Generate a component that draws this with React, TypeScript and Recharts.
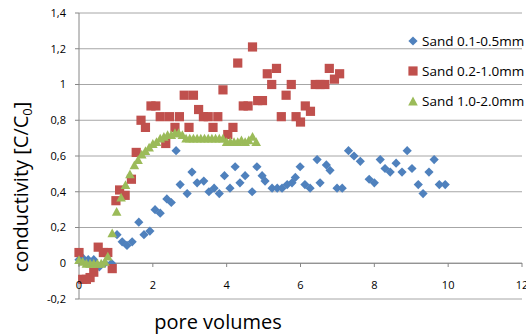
import { ScatterChart, Scatter, XAxis, YAxis, CartesianGrid, ReferenceLine, Label } from "recharts";

const FONT = '"Open Sans", "Liberation Sans", sans-serif';
const AXIS = "#868686";
const GRID = "#a6a6a6";

// [pore volumes, C/C0]
const fineSand: [number, number][] = [
  [0.0, 0.02], [0.1, 0.03], [0.25, 0.02], [0.4, 0.02], [0.55, -0.02], [0.7, 0.0], [0.88, 0.0],
  [1.03, 0.16], [1.17, 0.12], [1.3, 0.1], [1.44, 0.12], [1.62, 0.23], [1.76, 0.16], [1.92, 0.18],
  [2.06, 0.3], [2.2, 0.28], [2.38, 0.36], [2.5, 0.34], [2.63, 0.63], [2.74, 0.44], [2.93, 0.39],
  [3.06, 0.51], [3.2, 0.45], [3.38, 0.46], [3.52, 0.4], [3.66, 0.42], [3.8, 0.39], [3.94, 0.49],
  [4.09, 0.42], [4.23, 0.54], [4.36, 0.45], [4.5, 0.49], [4.69, 0.4], [4.82, 0.54], [4.96, 0.49],
  [5.04, 0.46], [5.23, 0.42], [5.37, 0.42], [5.5, 0.42], [5.64, 0.44], [5.77, 0.45], [5.86, 0.48],
  [5.99, 0.54], [6.12, 0.44], [6.26, 0.42], [6.45, 0.58], [6.53, 0.45], [6.7, 0.55], [6.8, 0.52],
  [6.99, 0.42], [7.13, 0.42], [7.3, 0.63], [7.45, 0.6], [7.62, 0.57], [7.86, 0.47], [8.0, 0.45],
  [8.16, 0.58], [8.29, 0.53], [8.43, 0.51], [8.59, 0.56], [8.75, 0.51], [8.89, 0.63], [9.02, 0.53],
  [9.19, 0.44], [9.32, 0.39], [9.48, 0.51], [9.62, 0.58], [9.76, 0.44], [9.92, 0.44],
];

const mediumSand: [number, number][] = [
  [0.0, 0.06], [0.1, -0.09], [0.2, -0.09], [0.3, -0.08], [0.4, -0.05], [0.52, 0.09], [0.66, 0.06],
  [0.78, 0.06], [0.9, -0.03], [1.0, 0.35], [1.1, 0.41], [1.25, 0.38], [1.42, 0.47], [1.55, 0.62],
  [1.68, 0.8], [1.8, 0.76], [1.95, 0.88], [2.08, 0.88], [2.2, 0.82], [2.35, 0.67], [2.45, 0.82],
  [2.6, 0.76], [2.72, 0.82], [2.85, 0.94], [2.98, 0.76], [3.1, 0.94], [3.24, 0.86], [3.37, 0.82],
  [3.5, 0.82], [3.63, 0.76], [3.76, 0.82], [3.9, 0.97], [4.03, 0.72], [4.17, 0.76], [4.3, 1.12],
  [4.45, 0.88], [4.58, 0.88], [4.7, 1.21], [4.84, 0.91], [4.97, 0.91], [5.1, 1.06], [5.22, 1.0],
  [5.35, 1.09], [5.48, 0.82], [5.61, 0.94], [5.75, 1.0], [5.88, 0.82], [6.0, 0.79], [6.13, 0.88],
  [6.27, 0.85], [6.4, 1.0], [6.53, 1.0], [6.66, 1.0], [6.78, 1.09], [6.92, 1.03], [7.06, 1.06],
];

const coarseSand: [number, number][] = [
  [0.0, 0.02], [0.1, 0.01], [0.2, 0.0], [0.3, 0.0], [0.4, 0.0], [0.5, 0.0], [0.6, 0.0], [0.7, 0.01],
  [0.78, 0.04], [0.9, 0.17], [1.02, 0.29], [1.14, 0.37], [1.26, 0.44], [1.38, 0.5], [1.5, 0.55],
  [1.6, 0.58], [1.7, 0.61], [1.8, 0.63], [1.9, 0.65], [2.0, 0.67], [2.1, 0.68], [2.2, 0.7],
  [2.3, 0.71], [2.4, 0.72], [2.5, 0.72], [2.6, 0.73], [2.7, 0.73], [2.8, 0.72], [2.9, 0.7],
  [3.0, 0.7], [3.1, 0.7], [3.2, 0.7], [3.3, 0.7], [3.4, 0.7], [3.5, 0.7], [3.6, 0.7], [3.7, 0.7],
  [3.8, 0.7], [3.9, 0.7], [4.0, 0.68], [4.1, 0.68], [4.2, 0.68], [4.3, 0.68], [4.4, 0.69],
  [4.5, 0.68], [4.6, 0.69], [4.7, 0.71], [4.8, 0.68],
];

const xTicks = [0, 2, 4, 6, 8, 10, 12];
const yTicks = [-0.2, 0, 0.2, 0.4, 0.6, 0.8, 1, 1.2, 1.4];

const toPoints = (rows: [number, number][]) => rows.map(([x, y]) => ({ x, y }));

function Diamond({ cx, cy, fill }: any) {
  const r = 4.6;
  return <path d={`M${cx},${cy - r}L${cx + r},${cy}L${cx},${cy + r}L${cx - r},${cy}Z`} fill={fill} />;
}

function Square({ cx, cy, fill }: any) {
  const r = 4.6;
  return <rect x={cx - r} y={cy - r} width={r * 2} height={r * 2} fill={fill} />;
}

function Triangle({ cx, cy, fill }: any) {
  const w = 4.8;
  const h = 4.4;
  return <path d={`M${cx},${cy - h}L${cx + w},${cy + h}L${cx - w},${cy + h}Z`} fill={fill} />;
}

const series = [
  { name: "Sand 0.1-0.5mm", data: fineSand, color: "#4f81bd", shape: Diamond },
  { name: "Sand 0.2-1.0mm", data: mediumSand, color: "#c0504d", shape: Square },
  { name: "Sand 1.0-2.0mm", data: coarseSand, color: "#9bbb59", shape: Triangle },
];

function XTick({ x, y, payload }: any) {
  // labels sit under the y=0 axis line, above the -0,2 gridline
  return (
    <g>
      <line x1={x} x2={x} y1={y - 36} y2={y - 32} stroke={AXIS} />
      <text x={x} y={y - 10} textAnchor="middle" fontSize={11} fill="#000" fontFamily={FONT}>
        {payload.value}
      </text>
    </g>
  );
}

function YTitle({ viewBox }: any) {
  const x = viewBox.x + 28;
  const y = viewBox.y + viewBox.height / 2 + 31;
  return (
    <text x={x} y={y} transform={`rotate(-90 ${x} ${y})`} textAnchor="middle" fontSize={20} fill="#000" fontFamily={FONT}>
      conductivity [C/C<tspan fontSize={13} dy={4}>0</tspan><tspan dy={-4}>]</tspan>
    </text>
  );
}

function XTitle({ viewBox }: any) {
  return (
    <text x={viewBox.x + 139} y={329} textAnchor="middle" fontSize={20} fill="#000" fontFamily={FONT}>
      pore volumes
    </text>
  );
}

function LegendBox() {
  return (
    <div style={{ position: "absolute", left: 406, top: 26, fontFamily: FONT, fontSize: 13.5, color: "#000" }}>
      {series.map((s) => {
        const Marker = s.shape;
        return (
          <div key={s.name} style={{ display: "flex", alignItems: "center", height: 30, whiteSpace: "nowrap" }}>
            <svg width={14} height={14} style={{ marginRight: 2 }}>
              <Marker cx={7} cy={7} fill={s.color} />
            </svg>
            <span>{s.name}</span>
          </div>
        );
      })}
    </div>
  );
}

export default function App() {
  return (
    <div style={{ position: "absolute", left: 0, top: 0, width: 526, height: 334, background: "#fff", overflow: "hidden" }}>
      <ScatterChart width={526} height={334} margin={{ top: 13, right: 4, bottom: 0, left: 0 }}>
        <CartesianGrid vertical={false} stroke={GRID} />
        <XAxis
          type="number"
          dataKey="x"
          domain={[0, 12]}
          ticks={xTicks}
          height={35}
          axisLine={false}
          tickLine={false}
          tickSize={0}
          tickMargin={0}
          tick={<XTick />}
          interval={0}
        >
          <Label content={<XTitle />} />
        </XAxis>
        <YAxis
          type="number"
          dataKey="y"
          domain={[-0.2, 1.4]}
          ticks={yTicks}
          width={79}
          interval={0}
          axisLine={{ stroke: AXIS }}
          tickLine={{ stroke: AXIS }}
          tickSize={4}
          tickMargin={9}
          tick={{ fontSize: 11, fill: "#000", fontFamily: FONT }}
          tickFormatter={(v: number) => String(Number(v.toFixed(1))).replace(".", ",")}
        >
          <Label content={<YTitle />} />
        </YAxis>
        <ReferenceLine y={0} stroke={AXIS} />
        {series.map((s) => (
          <Scatter key={s.name} name={s.name} data={toPoints(s.data)} fill={s.color} shape={<s.shape fill={s.color} />} isAnimationActive={false} />
        ))}
      </ScatterChart>
      <LegendBox />
    </div>
  );
}
